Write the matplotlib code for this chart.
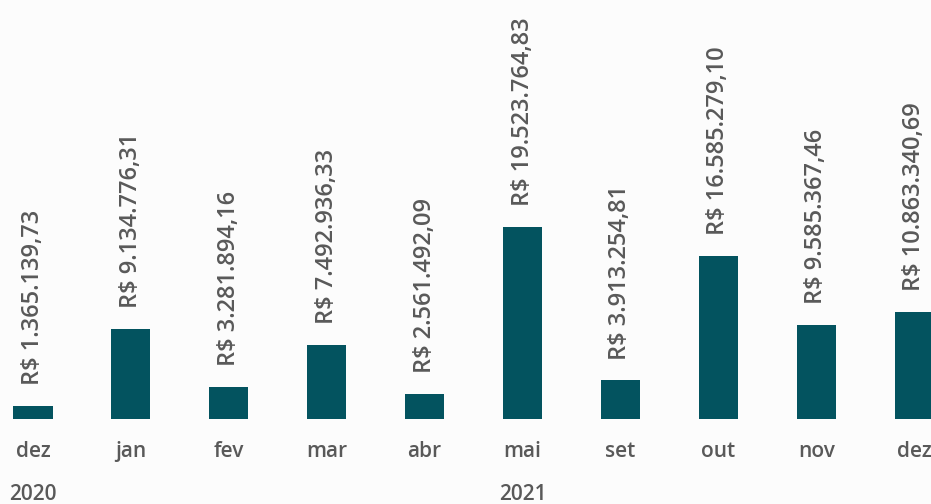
import matplotlib.pyplot as plt

meses = ['dez', 'jan', 'fev', 'mar', 'abr', 'mai', 'set', 'out', 'nov', 'dez']
valores = [1365139.73, 9134776.31, 3281894.16, 7492936.33, 2561492.09,
           19523764.83, 3913254.81, 16585279.10, 9585367.46, 10863340.69]
anos = ['2020', '2021']
ano_pos = [0, 5]

cor_barra = '#03535F'
cor_texto = '#595959'
fundo = '#FCFCFC'


def brl(v):
    s = f'{v:,.2f}'
    s = s.replace(',', 'X').replace('.', ',').replace('X', '.')
    return 'R$ ' + s


plt.rcParams['font.family'] = ['Open Sans', 'DejaVu Sans']

fig = plt.figure(figsize=(9.31, 5.04), dpi=100)
fig.patch.set_facecolor(fundo)
ax = fig.add_axes([0, 85 / 504, 1, 419 / 504])
ax.set_facecolor(fundo)

x = list(range(len(meses)))
ax.bar(x, valores, width=0.4, color=cor_barra)

for xi, v in zip(x, valores):
    ax.annotate(brl(v), (xi, v), xytext=(0, 15), textcoords='offset points',
                rotation=90, ha='center', va='bottom', fontsize=17,
                fontweight='semibold', color=cor_texto)

ax.set_xlim(-0.337, 9.172)
ax.set_ylim(0, 42.58e6)
ax.set_xticks(x)
ax.set_xticklabels(meses, fontsize=15, fontweight='semibold', color=cor_texto)
ax.tick_params(axis='x', length=0, pad=16)
ax.set_yticks([])
for s in ax.spines.values():
    s.set_visible(False)

trans = ax.get_xaxis_transform()
for nome, p in zip(anos, ano_pos):
    ax.text(p, -75 / 419, nome, transform=trans, ha='center', va='center',
            fontsize=15, fontweight='semibold', color=cor_texto, clip_on=False)

fig.savefig('out.png', dpi=100, facecolor=fundo)
